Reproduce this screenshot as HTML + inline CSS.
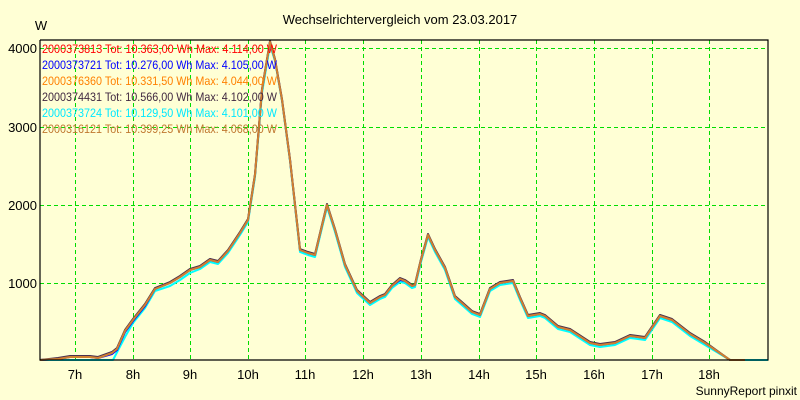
<!DOCTYPE html>
<html><head><style>
body{margin:0;background:#ffffd5;}
svg{display:block;font-family:"Liberation Sans",sans-serif;}
</style></head><body>
<svg width="800" height="400" xmlns="http://www.w3.org/2000/svg">
<rect width="800" height="400" fill="#ffffd5"/>
<text x="400" y="24" font-size="13" text-anchor="middle" fill="#000">Wechselrichtervergleich vom 23.03.2017</text>
<text x="41" y="30" font-size="13" text-anchor="middle" fill="#000">W</text>
<g stroke="#00dd00" stroke-width="1" stroke-dasharray="4,3">
<line x1="40" y1="48.5" x2="768" y2="48.5"/>
<line x1="40" y1="127.5" x2="768" y2="127.5"/>
<line x1="40" y1="205.5" x2="768" y2="205.5"/>
<line x1="40" y1="283.5" x2="768" y2="283.5"/>
<line x1="75.5" y1="40" x2="75.5" y2="360"/>
<line x1="133.5" y1="40" x2="133.5" y2="360"/>
<line x1="190.5" y1="40" x2="190.5" y2="360"/>
<line x1="248.5" y1="40" x2="248.5" y2="360"/>
<line x1="305.5" y1="40" x2="305.5" y2="360"/>
<line x1="363.5" y1="40" x2="363.5" y2="360"/>
<line x1="421.5" y1="40" x2="421.5" y2="360"/>
<line x1="479.5" y1="40" x2="479.5" y2="360"/>
<line x1="536.5" y1="40" x2="536.5" y2="360"/>
<line x1="594.5" y1="40" x2="594.5" y2="360"/>
<line x1="652.5" y1="40" x2="652.5" y2="360"/>
<line x1="709.5" y1="40" x2="709.5" y2="360"/>
</g>
<g font-size="13" fill="#000" text-anchor="end">
<text x="37" y="53">4000</text><text x="37" y="132">3000</text><text x="37" y="210">2000</text><text x="37" y="288">1000</text>
</g>
<g font-size="13" fill="#000" text-anchor="middle">
<text x="75" y="379">7h</text><text x="133" y="379">8h</text><text x="190" y="379">9h</text><text x="248" y="379">10h</text><text x="305" y="379">11h</text><text x="363" y="379">12h</text><text x="421" y="379">13h</text><text x="479" y="379">14h</text><text x="536" y="379">15h</text><text x="594" y="379">16h</text><text x="652" y="379">17h</text><text x="709" y="379">18h</text>
</g>
<text x="797" y="395" font-size="12" text-anchor="end" fill="#000">SunnyReport pinxit</text>
<g fill="none" stroke-width="2" stroke-linejoin="round">
<polyline stroke="#00ffff" transform="translate(0,1)" points="40,359 62,359 113,359 125,336 133,322 145,307 155,290 170,285 180,279 190,272 200,268 210,261 218,263 228,252 240,234 248,221 255,176 262,92 270,44 275,60 282,100 290,160 300,251 308,254 315,256 327,206 335,231 345,266 357,292 370,304 380,298 385,296 392,287 400,281 405,282 412,287 415,286 421,261 428,236 435,251 445,269 455,298 463,305 472,313 480,316 490,290 500,284 513,282 520,299 528,317 540,315 545,317 558,328 570,331 590,344 600,346 615,344 630,337 645,339 660,317 672,321 690,335 705,344 730,359 768,359"/>
<polyline stroke="#0000ff" points="40,360 58,359 70,357 90,357 98,358 112,354 117,350 125,332 133,321 145,306 155,289 170,283 180,277 190,270 200,267 210,260 218,262 228,251 240,233 248,220 255,175 262,90 270,42 275,60 282,100 290,160 300,250 308,253 315,255 327,205 335,230 345,265 357,291 370,303 380,297 385,295 392,286 400,280 405,281 412,286 415,285 421,260 428,235 435,250 445,268 455,297 463,304 472,312 480,315 490,289 500,283 513,281 520,298 528,316 540,314 545,316 558,327 570,330 590,343 600,345 615,343 630,336 645,338 660,316 672,320 690,334 705,343 730,360 740,360"/>
<polyline stroke="#4a3050" transform="translate(0,-1)" points="40,361 58,359 70,357 90,357 98,358 112,353 117,349 125,331 133,320 145,305 155,289 170,283 180,277 190,270 200,267 210,260 218,262 228,251 240,233 248,220 255,175 262,90 270,42 275,60 282,100 290,160 300,250 308,253 315,255 327,205 335,230 345,265 357,291 370,303 380,297 385,295 392,286 400,279 405,281 412,286 415,285 421,260 428,235 435,250 445,268 455,297 463,304 472,312 480,315 490,289 500,283 513,281 520,298 528,316 540,314 545,316 558,327 570,330 590,343 600,345 615,343 630,336 645,338 660,316 672,320 690,334 705,343 730,361 740,361"/>
<polyline stroke="#d08030" points="40,360 58,359 70,357 90,357 98,358 112,353 117,349 125,331 133,320 145,305 155,289 170,283 180,277 190,270 200,267 210,260 218,262 228,251 240,233 248,220 255,175 262,90 270,42 275,60 282,100 290,160 300,250 308,253 315,255 327,205 335,230 345,265 357,291 370,303 380,297 385,295 392,286 400,279 405,281 412,286 415,285 421,260 428,235 435,250 445,268 455,297 463,304 472,312 480,315 490,289 500,283 513,281 520,298 528,316 540,314 545,316 558,327 570,330 590,343 600,345 615,343 630,336 645,338 660,316 672,320 690,334 705,343 730,360 745,360"/>
</g>
<polyline points="40,40 768,40 768,360 40,360 40,40" fill="none" stroke="#000" stroke-width="1.2"/>
<g font-size="12" lengthAdjust="spacingAndGlyphs">
<text x="42" y="53" fill="#ff0000" textLength="235" lengthAdjust="spacingAndGlyphs">2000373813 Tot: 10.363,00 Wh Max: 4.114,00 W</text>
<text x="42" y="69" fill="#0000ff" textLength="235" lengthAdjust="spacingAndGlyphs">2000373721 Tot: 10.276,00 Wh Max: 4.105,00 W</text>
<text x="42" y="85" fill="#ff8000" textLength="235" lengthAdjust="spacingAndGlyphs">2000376360 Tot: 10.331,50 Wh Max: 4.044,00 W</text>
<text x="42" y="101" fill="#402840" textLength="235" lengthAdjust="spacingAndGlyphs">2000374431 Tot: 10.566,00 Wh Max: 4.102,00 W</text>
<text x="42" y="117" fill="#00e8ff" textLength="235" lengthAdjust="spacingAndGlyphs">2000373724 Tot: 10.129,50 Wh Max: 4.101,00 W</text>
<text x="42" y="133" fill="#c07830" textLength="235" lengthAdjust="spacingAndGlyphs">2000316121 Tot: 10.399,25 Wh Max: 4.068,00 W</text>
</g>
</svg>
</body></html>
